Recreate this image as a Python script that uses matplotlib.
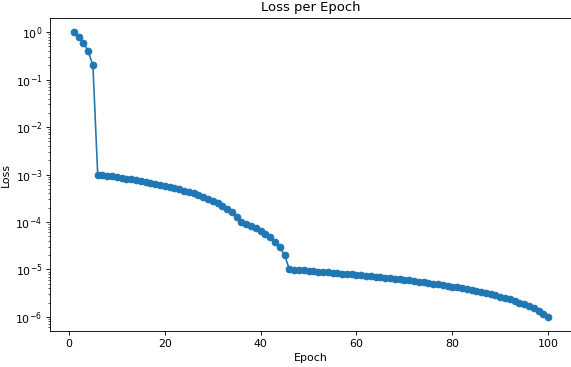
import matplotlib

matplotlib.use("Agg")
import matplotlib.pyplot as plt  # noqa: E402

# epochs 1..100
epocas = list(range(1, 101))

# epochs 1-5
loss_inicio = [1.0, 0.8, 0.6, 0.4, 0.2]

# epochs 6-35 (x 1e-3)
loss_fase1 = [1.00, 0.97, 0.94, 0.91, 0.88, 0.85, 0.82, 0.79, 0.76, 0.73,
              0.70, 0.67, 0.64, 0.61, 0.58, 0.55, 0.52, 0.49, 0.46, 0.43,
              0.40, 0.37, 0.34, 0.31, 0.28, 0.25, 0.22, 0.19, 0.16, 0.13]

# epochs 36-45 (x 1e-5)
loss_fase2 = [10.0, 9.1, 8.2, 7.3, 6.4, 5.6, 4.7, 3.8, 2.9, 2.0]

# epochs 46-100 (x 1e-6)
loss_fase3 = [10.0, 9.83, 9.67, 9.50, 9.33, 9.17, 9.00, 8.83, 8.67, 8.50,
              8.33, 8.17, 8.00, 7.83, 7.67, 7.50, 7.33, 7.17, 7.00, 6.83,
              6.67, 6.50, 6.33, 6.17, 6.00, 5.83, 5.67, 5.50, 5.33, 5.17,
              5.00, 4.83, 4.67, 4.50, 4.33, 4.17, 4.00, 3.83, 3.67, 3.50,
              3.33, 3.17, 3.00, 2.83, 2.67, 2.50, 2.33, 2.17, 2.00, 1.83,
              1.67, 1.50, 1.33, 1.17, 1.00]

loss = (loss_inicio
        + [v * 1e-3 for v in loss_fase1]
        + [v * 1e-5 for v in loss_fase2]
        + [v * 1e-6 for v in loss_fase3])

DPI = 79
fig = plt.figure(figsize=(571 / DPI, 367 / DPI), dpi=DPI)
ax = fig.add_axes([0.0876, 0.098, 0.914, 0.853])

ax.plot(epocas, loss, marker="o")
ax.set_yscale("log")
ax.set_title("Loss per Epoch")
ax.set_xlabel("Epoch")
ax.set_ylabel("Loss")

fig.savefig("out.png", dpi=DPI)
plt.close(fig)
